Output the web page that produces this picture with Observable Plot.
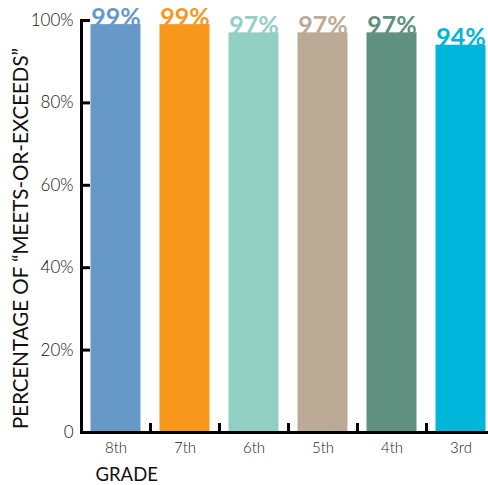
<!DOCTYPE html>
<html><head><meta charset="utf-8">
<script src="https://cdn.jsdelivr.net/npm/d3@7"></script>
<script src="https://cdn.jsdelivr.net/npm/@observablehq/plot@0.6"></script>
<style>body{margin:0;background:#fff;overflow:hidden}</style>
</head><body><div id="chart"></div>
<script>
const grades = ["8th","7th","6th","5th","4th","3rd"];
const values = [99,99,97,97,97,94];
const colors = ["#6699c8","#f7981d","#93d0c4","#bbab96","#60907f","#00b5da"];
const yTicks = [0,20,40,60,80,100];
const yTickLabels = ["0","20%","40%","60%","80%","100%"];
const yLabel = "PERCENTAGE OF “MEETS-OR-EXCEEDS”";
const xLabel = "GRADE";
const data = grades.map((g,i)=>({grade:g, value:values[i], color:colors[i], label: values[i]+"%"}));

const plot = Plot.plot({
  width: 488, height: 485,
  marginTop: 20, marginLeft: 81, marginRight: 0, marginBottom: 53,
  style: {fontFamily: "Lato, sans-serif", background: "#fff", overflow: "visible"},
  x: {domain: grades, range: [80.5, 494.5], padding: 0, label: null},
  y: {domain: [0, 100], label: null},
  marks: [
    Plot.barY(data, {x: "grade", y: "value", fill: "color", insetLeft: 9.5, insetRight: 9.5}),
    Plot.text(data, {x: "grade", y: "value", text: "label", fill: "color", fontSize: 25, fontWeight: "bold", lineAnchor: "bottom", dy: 1}),
    Plot.frame({anchor: "left", strokeWidth: 3}),
    Plot.ruleY([0], {strokeWidth: 3}),
    Plot.axisY({ticks: yTicks, tickSize: -9, text: null, strokeWidth: 3, label: null}),
    Plot.axisY({ticks: yTicks, tickFormat: d => yTickLabels[yTicks.indexOf(d)], tickSize: 0, tickPadding: 8, fontSize: 17, fontWeight: 300, fill: "#111", label: null}),
    Plot.axisX({ticks: grades.slice(0, 5), tickSize: -9, text: null, dx: 34.5, strokeWidth: 3, label: null}),
    Plot.axisX({tickSize: 0, tickPadding: 10, fontSize: 15, fontWeight: 300, fill: "#222", label: null}),
    Plot.text([yLabel], {text: d => d, frameAnchor: "left", textAnchor: "middle", rotate: -90, dx: -60, dy: 12, fontSize: 20.5, fill: "#111"}),
    Plot.text([xLabel], {text: d => d, frameAnchor: "bottom-left", textAnchor: "start", lineAnchor: "bottom", dx: 14, dy: 48, fontSize: 18.5, fill: "#111"})
  ]
});
document.getElementById("chart").appendChild(plot);
</script>
</body></html>
